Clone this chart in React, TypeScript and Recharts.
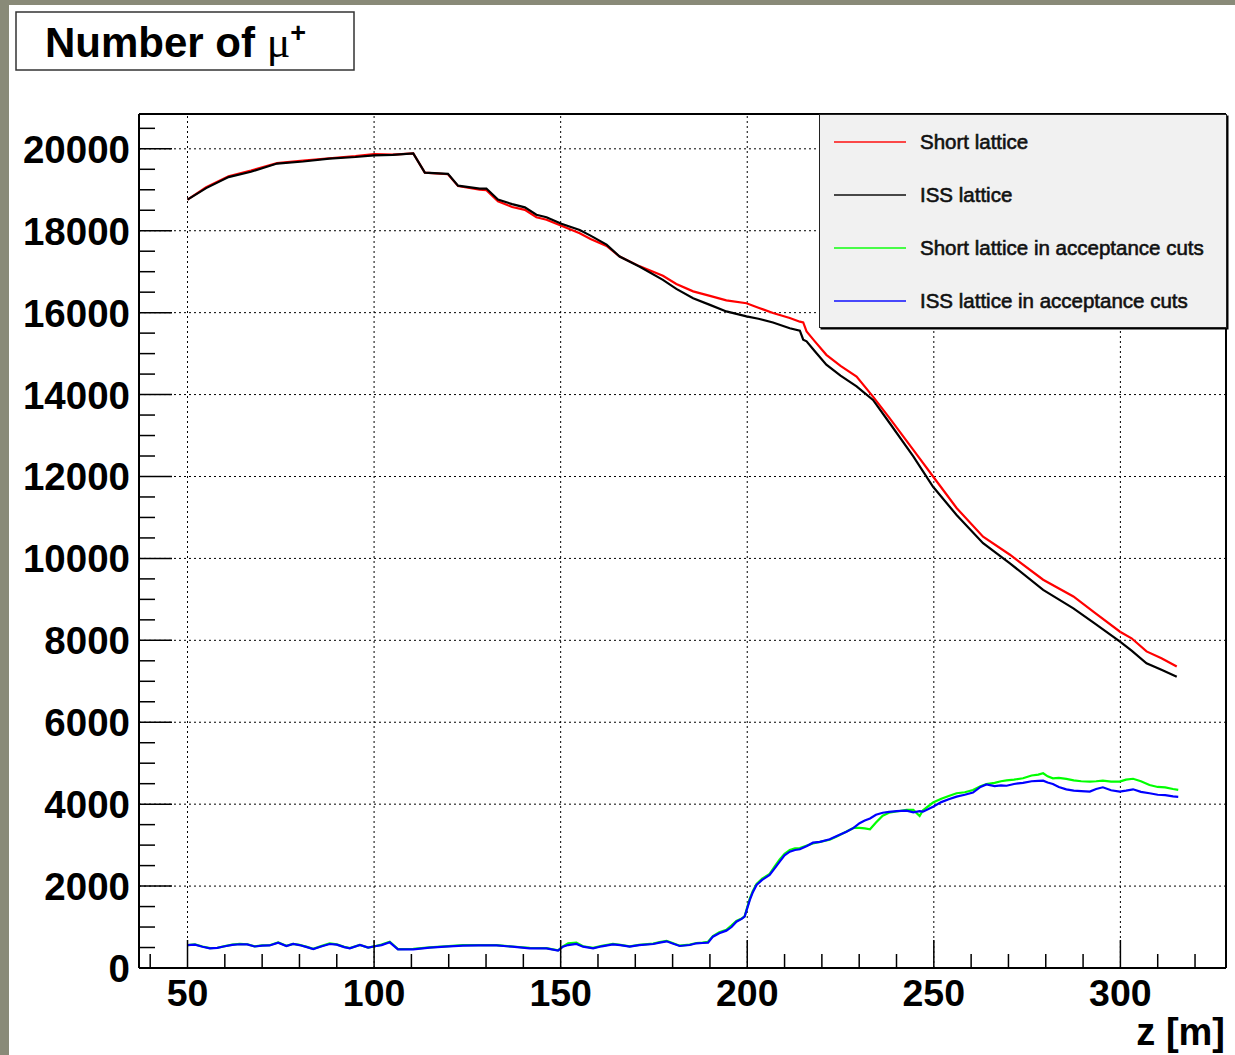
import React from 'react';
import { LineChart, Line, XAxis, YAxis, ReferenceLine } from 'recharts';

// ---- data -------------------------------------------------------------
// z positions (m) for the full-beam curves
const zUpper = [
  50, 55, 61, 67, 74, 81, 88, 95, 100, 105,
  110.5, 113.6, 119.8, 122.5, 128.3, 130.1, 133.2, 137, 140.4, 143.5,
  146.2, 150.2, 155.1, 158, 162.3, 165.8, 171.2, 177.4, 181, 185.5,
  190, 194.4, 199.8, 203, 206.9, 211.4, 214.1, 215, 215.9, 218,
  221.2, 225, 229.3, 233.7, 238.2, 244.5, 249.8, 256.1, 263.2, 270.4,
  279.3, 287.4, 293, 299.9, 303, 307, 311, 315.1,
];

const shortLattice = [
  18760, 19060, 19330, 19470, 19650, 19710, 19770, 19820, 19870, 19860,
  19890, 19420, 19380, 19090, 19000, 18990, 18720, 18580, 18510, 18330,
  18270, 18120, 17940, 17800, 17630, 17370, 17130, 16900, 16700, 16520,
  16410, 16300, 16230, 16120, 15990, 15870, 15780, 15760, 15540, 15310,
  14970, 14700, 14440, 13950, 13420, 12650, 12000, 11230, 10530, 10090,
  9480, 9070, 8680, 8210, 8050, 7730, 7560, 7360,
];

const issLattice = [
  18760, 19040, 19310, 19440, 19640, 19690, 19760, 19800, 19840, 19850,
  19890, 19420, 19390, 19100, 19030, 19030, 18760, 18650, 18570, 18390,
  18330, 18170, 18020, 17880, 17660, 17370, 17120, 16800, 16580, 16350,
  16190, 16030, 15910, 15850, 15760, 15620, 15560, 15340, 15300, 15070,
  14730, 14460, 14200, 13870, 13300, 12490, 11750, 11060, 10370, 9880,
  9230, 8780, 8420, 7970, 7750, 7440, 7280, 7110,
];

// z positions (m) for the curves inside the acceptance cuts
const zLower = [
  50, 52, 54, 56, 58, 60, 62, 64, 66, 68,
  70, 72, 74.3, 76.5, 78.3, 80, 82, 83.7, 86, 88.1,
  90, 92, 93.5, 96.2, 98.4, 100.6, 102, 104.2, 106.4, 110.5,
  114.9, 119, 123.8, 128, 132.8, 137, 141.7, 146.2, 149.3, 150.6,
  152, 154.2, 156, 158.7, 161, 164, 166, 168.5, 171, 174.8,
  176.5, 178.4, 180, 181.9, 184.6, 186.4, 188, 189.5, 190.8, 192.5,
  194.4, 195.8, 197.1, 198.5, 199.3, 200.7, 201.5, 202.5, 204, 206,
  207.5, 208.7, 210, 211.4, 212.8, 214.1, 216, 217.6, 219.5, 222.1,
  224, 226.6, 228.5, 230.1, 231.5, 232.9, 234.5, 236.3, 238, 240,
  242.7, 244.5, 246.2, 247.1, 249.8, 252, 254, 256.1, 258.3, 260.5,
  262.5, 264.1, 266.3, 268, 269.5, 271.5, 273.9, 276.2, 278, 279.3,
  280.5, 281.9, 283.5, 285.5, 287.5, 289.5, 291.8, 293.5, 295.3, 297.5,
  299.8, 301.5, 303.4, 305.5, 307.8, 310, 312, 314.1, 315.5,
];

const shortAcceptance = [
  560, 575, 525, 485, 495, 535, 570, 590, 580, 530,
  550, 555, 625, 540, 590, 565, 515, 470, 540, 600,
  575, 515, 485, 565, 500, 540, 570, 640, 460, 465,
  505, 530, 560, 560, 560, 525, 490, 485, 430, 530,
  600, 620, 530, 490, 540, 590, 565, 530, 565, 595,
  630, 660, 610, 545, 570, 610, 620, 640, 780, 870,
  930, 1040, 1150, 1210, 1260, 1700, 1880, 2050, 2180, 2300,
  2500, 2650, 2790, 2880, 2920, 2930, 2990, 3040, 3080, 3130,
  3210, 3330, 3420, 3420, 3410, 3387, 3550, 3720, 3790, 3820,
  3860, 3860, 3712, 3850, 4039, 4130, 4200, 4266, 4290, 4347,
  4440, 4493, 4520, 4560, 4580, 4600, 4632, 4700, 4720, 4754,
  4680, 4632, 4640, 4616, 4580, 4560, 4550, 4560, 4575, 4550,
  4550, 4600, 4620, 4560, 4469, 4420, 4410, 4370, 4350,
];

const issAcceptance = [
  560, 570, 520, 480, 490, 530, 565, 580, 575, 525,
  545, 550, 619, 537, 586, 560, 510, 464, 530, 586,
  570, 510, 480, 562, 497, 537, 560, 627, 456, 456,
  497, 520, 546, 550, 554, 520, 480, 480, 423, 521,
  560, 586, 520, 480, 530, 578, 560, 521, 560, 586,
  620, 651, 600, 537, 562, 603, 610, 619, 765, 850,
  912, 1000, 1131, 1200, 1253, 1661, 1850, 2027, 2150, 2271,
  2450, 2596, 2750, 2840, 2880, 2898, 2980, 3060, 3080, 3143,
  3220, 3329, 3420, 3534, 3600, 3650, 3740, 3790, 3810, 3830,
  3842, 3800, 3830, 3818, 3939, 4050, 4120, 4184, 4230, 4282,
  4420, 4480, 4440, 4460, 4450, 4493, 4520, 4560, 4570, 4575,
  4530, 4493, 4420, 4360, 4330, 4320, 4306, 4370, 4412, 4340,
  4306, 4330, 4363, 4300, 4266, 4230, 4220, 4190, 4180,
];

const seriesNames = [
  'Short lattice',
  'ISS lattice',
  'Short lattice in acceptance cuts',
  'ISS lattice in acceptance cuts',
];
const seriesColors = ['#ff0000', '#000000', '#00ff00', '#0000ff'];

// axis ranges and ticks
const xDomain: [number, number] = [37, 328.3];
const yDomain: [number, number] = [0, 20850];
const xMajorTicks = [50, 100, 150, 200, 250, 300];
const xTicks = [40, 50, 60, 70, 80, 90, 100, 110, 120, 130, 140, 150, 160, 170, 180, 190,
  200, 210, 220, 230, 240, 250, 260, 270, 280, 290, 300, 310, 320];
const yMajorTicks = [0, 2000, 4000, 6000, 8000, 10000, 12000, 14000, 16000, 18000, 20000];
const yTicks = Array.from({ length: 42 }, (_, i) => i * 500);

const FONT = '"Liberation Sans", Arial, Helvetica, sans-serif';

const toPoints = (z: number[], v: number[]) => z.map((zz, i) => ({ z: zz, v: v[i] }));

const series = [
  { name: seriesNames[0], color: seriesColors[0], data: toPoints(zUpper, shortLattice) },
  { name: seriesNames[1], color: seriesColors[1], data: toPoints(zUpper, issLattice) },
  { name: seriesNames[2], color: seriesColors[2], data: toPoints(zLower, shortAcceptance) },
  { name: seriesNames[3], color: seriesColors[3], data: toPoints(zLower, issAcceptance) },
];

// ---- axis decorations -------------------------------------------------
const XTick = (props: any) => {
  const { x, y, payload } = props;
  const major = xMajorTicks.includes(payload.value);
  return (
    <g>
      <line x1={x} x2={x} y1={y} y2={y - (major ? 28 : 14)} stroke="#000" strokeWidth={1.5} />
      {major && (
        <text x={x} y={y + 38} textAnchor="middle" fontFamily={FONT} fontWeight="bold" fontSize={37.5} fill="#000">
          {payload.value}
        </text>
      )}
    </g>
  );
};

const YTick = (props: any) => {
  const { x, y, payload } = props;
  const major = yMajorTicks.includes(payload.value);
  return (
    <g>
      <line x1={x} x2={x + (major ? 33 : 16)} y1={y} y2={y} stroke="#000" strokeWidth={1.5} />
      {major && (
        <text x={x - 9} y={y + 14} textAnchor="end" fontFamily={FONT} fontWeight="bold" fontSize={38.5} fill="#000">
          {payload.value}
        </text>
      )}
    </g>
  );
};

const XTitle = (props: any) => {
  const vb = props.viewBox || {};
  return (
    <text x={vb.x + vb.width - 1} y={vb.y + 77} textAnchor="end" fontFamily={FONT} fontWeight="bold" fontSize={38} fill="#000">
      z [m]
    </text>
  );
};

const LegendBox = () => (
  <div
    style={{
      position: 'absolute',
      left: 819,
      top: 114,
      width: 406,
      height: 212,
      background: '#f1f1f1',
      border: '1px solid #222',
      boxShadow: '1.5px 1.5px 0 #000',
      fontFamily: FONT,
    }}
  >
    {series.map((s, i) => {
      const rowY = 26.5 + i * 53.3;
      return (
        <React.Fragment key={s.name}>
          <div style={{ position: 'absolute', left: 14, top: rowY - 1, width: 72, height: 2, background: s.color, opacity: 0.7 }} />
          <div
            style={{
              position: 'absolute',
              left: 100,
              top: rowY - 12,
              height: 24,
              lineHeight: '24px',
              fontSize: 20.5,
              color: '#111',
              whiteSpace: 'nowrap',
              WebkitTextStroke: '0.6px #111',
            }}
          >
            {s.name}
          </div>
        </React.Fragment>
      );
    })}
  </div>
);

// ---- chart --------------------------------------------------------------
export default function App() {
  const gridStyle = { stroke: '#000', strokeWidth: 1, strokeDasharray: '2 3' };
  return (
    <div style={{ position: 'absolute', left: 0, top: 0, width: 1235, height: 1055, background: '#fff', overflow: 'hidden' }}>
      <div style={{ position: 'absolute', left: 0, top: 0, width: 1235, height: 5, background: '#898a78' }} />
      <div style={{ position: 'absolute', left: 0, top: 0, width: 9, height: 1055, background: '#898a78' }} />

      <div style={{ position: 'absolute', left: 0, top: 0 }}>
        <LineChart width={1235} height={1055} margin={{ top: 114, right: 9, bottom: 86, left: 138 }}>
          <XAxis
            dataKey="z"
            type="number"
            domain={xDomain}
            ticks={xTicks}
            interval={0}
            allowDataOverflow
            height={1}
            tickSize={0}
            tickMargin={0}
            tick={<XTick />}
            axisLine={{ stroke: '#000', strokeWidth: 2 }}
            tickLine={false}
            label={<XTitle />}
          />
          <YAxis
            type="number"
            domain={yDomain}
            ticks={yTicks}
            interval={0}
            allowDataOverflow
            width={1}
            tickSize={0}
            tickMargin={0}
            tick={<YTick />}
            axisLine={{ stroke: '#000', strokeWidth: 2 }}
            tickLine={false}
          />
          {yMajorTicks.filter((v) => v > 0).map((v) => (
            <ReferenceLine key={`gy${v}`} y={v} {...gridStyle} />
          ))}
          {xMajorTicks.map((v) => (
            <ReferenceLine key={`gx${v}`} x={v} {...gridStyle} />
          ))}
          <ReferenceLine y={yDomain[1]} stroke="#000" strokeWidth={2} />
          <ReferenceLine x={xDomain[1]} stroke="#000" strokeWidth={2} />
          {series.map((s) => (
            <Line
              key={s.name}
              data={s.data}
              dataKey="v"
              name={s.name}
              type="linear"
              stroke={s.color}
              strokeWidth={2.2}
              dot={false}
              activeDot={false}
              isAnimationActive={false}
            />
          ))}
        </LineChart>
      </div>

      <LegendBox />

      {/* plot title */}
      <svg style={{ position: 'absolute', left: 15, top: 11 }} width={341} height={62}>
        <rect x={1} y={1} width={338} height={58} fill="#fff" stroke="#333" strokeWidth={1.5} />
        <text x={30} y={46} fontFamily={FONT} fontWeight="bold" fontSize={42} fill="#000">
          Number of{' '}
          <tspan fontFamily='"Liberation Serif", "Times New Roman", serif' fontWeight="normal" fontSize={44}>μ</tspan>
          <tspan dy={-15} fontSize={27}>+</tspan>
        </text>
      </svg>
    </div>
  );
}
